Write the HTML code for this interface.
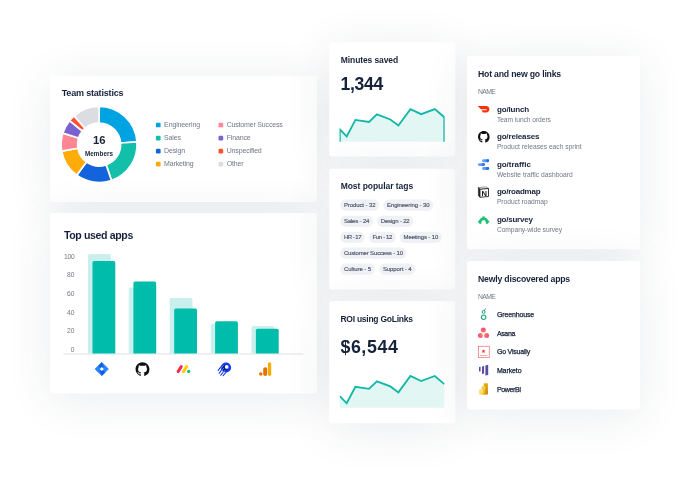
<!DOCTYPE html>
<html lang="en"><head><meta charset="utf-8"><title>Dashboard</title>
<style>
html,body{margin:0;padding:0;background:#fff;}
body{width:690px;height:482px;position:relative;overflow:hidden;font-family:"Liberation Sans",sans-serif;}
.abs{position:absolute;}
.card{position:absolute;background:#fff;border-radius:3px;box-shadow:0 6px 46px rgba(42,55,82,0.10);}
.t{position:absolute;white-space:nowrap;line-height:1;}
</style></head><body>
<div class="card" style="left:51px;top:76px;width:266px;height:126px"></div>
<svg class="abs" style="left:0;top:0" width="690" height="482" viewBox="0 0 690 482"><rect x="50.1" y="75.8" width="267.00" height="126.20" rx="3" fill="#fff"/></svg>
<div class="card" style="left:51px;top:213px;width:266px;height:180px"></div>
<svg class="abs" style="left:0;top:0" width="690" height="482" viewBox="0 0 690 482"><rect x="50.1" y="213.0" width="267.00" height="180.40" rx="3" fill="#fff"/></svg>
<div class="card" style="left:330px;top:43px;width:125px;height:113px"></div>
<svg class="abs" style="left:0;top:0" width="690" height="482" viewBox="0 0 690 482"><rect x="329.2" y="42.3" width="126.20" height="114.30" rx="3" fill="#fff"/></svg>
<div class="card" style="left:330px;top:169px;width:125px;height:120px"></div>
<svg class="abs" style="left:0;top:0" width="690" height="482" viewBox="0 0 690 482"><rect x="329.2" y="168.7" width="126.20" height="120.90" rx="3" fill="#fff"/></svg>
<div class="card" style="left:330px;top:301px;width:125px;height:122px"></div>
<svg class="abs" style="left:0;top:0" width="690" height="482" viewBox="0 0 690 482"><rect x="329.2" y="301.0" width="126.20" height="122.30" rx="3" fill="#fff"/></svg>
<div class="card" style="left:467px;top:56px;width:172px;height:193px"></div>
<svg class="abs" style="left:0;top:0" width="690" height="482" viewBox="0 0 690 482"><rect x="466.9" y="55.9" width="173.00" height="193.40" rx="3" fill="#fff"/></svg>
<div class="card" style="left:467px;top:262px;width:172px;height:147px"></div>
<svg class="abs" style="left:0;top:0" width="690" height="482" viewBox="0 0 690 482"><rect x="466.9" y="261.1" width="173.00" height="148.50" rx="3" fill="#fff"/></svg>
<svg class="abs" style="left:0;top:0" width="690" height="482" viewBox="0 0 690 482"><rect x="155.9" y="122.65" width="4.7" height="4.7" rx="1.2" fill="#00a3e2"/><rect x="155.9" y="135.68" width="4.7" height="4.7" rx="1.2" fill="#12bfa8"/><rect x="155.9" y="148.71" width="4.7" height="4.7" rx="1.2" fill="#1263dc"/><rect x="155.9" y="161.74" width="4.7" height="4.7" rx="1.2" fill="#ffab0a"/><rect x="218.5" y="122.65" width="4.7" height="4.7" rx="1.2" fill="#ff8793"/><rect x="218.5" y="135.68" width="4.7" height="4.7" rx="1.2" fill="#7b62cf"/><rect x="218.5" y="148.71" width="4.7" height="4.7" rx="1.2" fill="#ff5330"/><rect x="218.5" y="161.74" width="4.7" height="4.7" rx="1.2" fill="#dcdde2"/><rect x="63.4" y="353.35" width="240" height="1.15" fill="#e2e4e9"/><path d="M88,353.5 V255.60 a1.6,1.6 0 0 1 1.6,-1.6 H109.20 a1.6,1.6 0 0 1 1.6,1.6 V353.5 Z" fill="#c9f0ec"/><path d="M128.8,353.5 V289.20 a1.6,1.6 0 0 1 1.6,-1.6 H150.00 a1.6,1.6 0 0 1 1.6,1.6 V353.5 Z" fill="#c9f0ec"/><path d="M169.7,353.5 V299.70 a1.6,1.6 0 0 1 1.6,-1.6 H190.90 a1.6,1.6 0 0 1 1.6,1.6 V353.5 Z" fill="#c9f0ec"/><path d="M210.8,353.5 V325.30 a1.6,1.6 0 0 1 1.6,-1.6 H232.00 a1.6,1.6 0 0 1 1.6,1.6 V353.5 Z" fill="#c9f0ec"/><path d="M251.5,353.5 V327.60 a1.6,1.6 0 0 1 1.6,-1.6 H272.70 a1.6,1.6 0 0 1 1.6,1.6 V353.5 Z" fill="#c9f0ec"/><path d="M92.5,353.5 V262.50 a1.6,1.6 0 0 1 1.6,-1.6 H113.70 a1.6,1.6 0 0 1 1.6,1.6 V353.5 Z" fill="#00bcab"/><path d="M133.4,353.5 V283.00 a1.6,1.6 0 0 1 1.6,-1.6 H154.60 a1.6,1.6 0 0 1 1.6,1.6 V353.5 Z" fill="#00bcab"/><path d="M174.2,353.5 V310.20 a1.6,1.6 0 0 1 1.6,-1.6 H195.40 a1.6,1.6 0 0 1 1.6,1.6 V353.5 Z" fill="#00bcab"/><path d="M215.1,353.5 V322.90 a1.6,1.6 0 0 1 1.6,-1.6 H236.30 a1.6,1.6 0 0 1 1.6,1.6 V353.5 Z" fill="#00bcab"/><path d="M255.9,353.5 V330.30 a1.6,1.6 0 0 1 1.6,-1.6 H277.10 a1.6,1.6 0 0 1 1.6,1.6 V353.5 Z" fill="#00bcab"/><rect x="340.2" y="199.60" width="39.00" height="11.2" rx="5.6" fill="#f0f1f4"/><rect x="383.3" y="199.60" width="49.80" height="11.2" rx="5.6" fill="#f0f1f4"/><rect x="340.2" y="215.70" width="32.80" height="11.2" rx="5.6" fill="#f0f1f4"/><rect x="377.1" y="215.70" width="36.10" height="11.2" rx="5.6" fill="#f0f1f4"/><rect x="340.2" y="231.70" width="24.50" height="11.2" rx="5.6" fill="#f0f1f4"/><rect x="368.8" y="231.70" width="27.00" height="11.2" rx="5.6" fill="#f0f1f4"/><rect x="399.9" y="231.70" width="41.90" height="11.2" rx="5.6" fill="#f0f1f4"/><rect x="340.2" y="247.60" width="66.40" height="11.2" rx="5.6" fill="#f0f1f4"/><rect x="340.2" y="263.60" width="34.60" height="11.2" rx="5.6" fill="#f0f1f4"/><rect x="379.2" y="263.60" width="36.10" height="11.2" rx="5.6" fill="#f0f1f4"/></svg>
<span class="t" style="left:61.70px;top:89px;font-size:9px;color:#16213a;font-weight:700;letter-spacing:-0.177px;">Team statistics</span>
<svg class="abs" style="left:0;top:0" width="690" height="482" viewBox="0 0 690 482"><path d="M99.10,106.50 A38.0,38.0 0 0 1 137.01,141.85 L120.55,143.00 A21.5,21.5 0 0 0 99.10,123.00 Z" fill="#00a3e2" stroke="#fff" stroke-width="1.7" stroke-linejoin="round"/><path d="M137.01,141.85 A38.0,38.0 0 0 1 111.47,180.43 L106.10,164.83 A21.5,21.5 0 0 0 120.55,143.00 Z" fill="#12bfa8" stroke="#fff" stroke-width="1.7" stroke-linejoin="round"/><path d="M111.47,180.43 A38.0,38.0 0 0 1 76.76,175.24 L86.46,161.89 A21.5,21.5 0 0 0 106.10,164.83 Z" fill="#1263dc" stroke="#fff" stroke-width="1.7" stroke-linejoin="round"/><path d="M76.76,175.24 A38.0,38.0 0 0 1 61.68,151.10 L77.93,148.23 A21.5,21.5 0 0 0 86.46,161.89 Z" fill="#ffab0a" stroke="#fff" stroke-width="1.7" stroke-linejoin="round"/><path d="M61.68,151.10 A38.0,38.0 0 0 1 62.86,133.07 L78.60,138.03 A21.5,21.5 0 0 0 77.93,148.23 Z" fill="#ff8793" stroke="#fff" stroke-width="1.7" stroke-linejoin="round"/><path d="M62.86,133.07 A38.0,38.0 0 0 1 69.57,120.59 L82.39,130.97 A21.5,21.5 0 0 0 78.60,138.03 Z" fill="#7b62cf" stroke="#fff" stroke-width="1.7" stroke-linejoin="round"/><path d="M69.57,120.59 A38.0,38.0 0 0 1 74.17,115.82 L84.99,128.27 A21.5,21.5 0 0 0 82.39,130.97 Z" fill="#ff5330" stroke="#fff" stroke-width="1.7" stroke-linejoin="round"/><path d="M74.17,115.82 A38.0,38.0 0 0 1 99.10,106.50 L99.10,123.00 A21.5,21.5 0 0 0 84.99,128.27 Z" fill="#dcdde2" stroke="#fff" stroke-width="1.7" stroke-linejoin="round"/></svg>
<span class="t" style="left:92.92px;top:135px;font-size:11.3px;color:#16213a;font-weight:700;">16</span>
<span class="t" style="left:85.00px;top:151px;font-size:6.3px;color:#16213a;font-weight:700;letter-spacing:0.050px;">Members</span>
<span class="t" style="left:164.10px;top:121px;font-size:7px;color:#6f7787;font-weight:400;letter-spacing:-0.133px;">Engineering</span>
<span class="t" style="left:164.10px;top:134px;font-size:7px;color:#6f7787;font-weight:400;letter-spacing:-0.158px;">Sales</span>
<span class="t" style="left:164.10px;top:147px;font-size:7px;color:#6f7787;font-weight:400;letter-spacing:-0.163px;">Design</span>
<span class="t" style="left:164.10px;top:160px;font-size:7px;color:#6f7787;font-weight:400;letter-spacing:-0.154px;">Marketing</span>
<span class="t" style="left:226.70px;top:121px;font-size:7px;color:#6f7787;font-weight:400;letter-spacing:-0.178px;">Customer Success</span>
<span class="t" style="left:226.70px;top:134px;font-size:7px;color:#6f7787;font-weight:400;letter-spacing:-0.160px;">Finance</span>
<span class="t" style="left:226.70px;top:147px;font-size:7px;color:#6f7787;font-weight:400;letter-spacing:-0.150px;">Unspecified</span>
<span class="t" style="left:226.70px;top:160px;font-size:7px;color:#6f7787;font-weight:400;letter-spacing:-0.158px;">Other</span>
<span class="t" style="left:63.90px;top:230px;font-size:10.6px;color:#16213a;font-weight:700;letter-spacing:-0.382px;">Top used apps</span>
<span class="t" style="left:64.02px;top:254px;font-size:6.7px;color:#6f7787;font-weight:400;letter-spacing:-0.260px;">100</span>
<span class="t" style="left:67.11px;top:272px;font-size:6.7px;color:#6f7787;font-weight:400;letter-spacing:-0.074px;">80</span>
<span class="t" style="left:67.11px;top:291px;font-size:6.7px;color:#6f7787;font-weight:400;letter-spacing:-0.074px;">60</span>
<span class="t" style="left:67.11px;top:310px;font-size:6.7px;color:#6f7787;font-weight:400;letter-spacing:-0.074px;">40</span>
<span class="t" style="left:67.11px;top:328px;font-size:6.7px;color:#6f7787;font-weight:400;letter-spacing:-0.074px;">20</span>
<span class="t" style="left:70.76px;top:347px;font-size:6.7px;color:#6f7787;font-weight:400;">0</span>
<svg class="abs" style="left:0;top:0" width="690" height="482" viewBox="0 0 690 482"><defs><linearGradient id="jg1" x1="1" y1="0" x2="0" y2="1"><stop offset="0" stop-color="#0052cc"/><stop offset="1" stop-color="#2684ff"/></linearGradient><linearGradient id="ds" x1="0" y1="0" x2="1" y2="0"><stop offset="0" stop-color="#76a7f8"/><stop offset="1" stop-color="#3d86f3"/></linearGradient><radialGradient id="as" gradientUnits="userSpaceOnUse" cx="483.4" cy="334.2" r="6.2"><stop offset="0" stop-color="#ffb43a"/><stop offset="0.55" stop-color="#fa5f86"/><stop offset="1" stop-color="#f8506a"/></radialGradient><linearGradient id="pb1" x1="0" y1="0" x2="0" y2="1"><stop offset="0" stop-color="#e6ad10"/><stop offset="1" stop-color="#c87e0e"/></linearGradient><linearGradient id="pb2" x1="0" y1="0" x2="0" y2="1"><stop offset="0" stop-color="#f6d751"/><stop offset="1" stop-color="#e6ad10"/></linearGradient><linearGradient id="pb3" x1="0" y1="0" x2="0" y2="1"><stop offset="0" stop-color="#f9e589"/><stop offset="1" stop-color="#f6d751"/></linearGradient><clipPath id="spc"><rect x="339.55" y="90" width="105.1" height="330"/></clipPath></defs><path d="M101.8,362.35 L108.5,369.05 L101.8,375.75 L95.1,369.05 Z" fill="#2684ff" stroke="#2684ff" stroke-width="0.6" stroke-linejoin="round"/><path d="M101.8,362.35 L95.1,369.05 L98.5,372.35 L101.8,369.05 Z" fill="#1b6ff0" opacity="0.0"/><path d="M98.39999999999999,365.65000000000003 L101.8,369.05 L98.39999999999999,372.45  L95.1,369.05 Z" fill="#2684ff"/><path d="M101.8,362.35 L98.45,365.7 L101.8,369.05 L103.7,367.15000000000003 Z" fill="#0b55d6" opacity="0.8"/><path d="M101.8,375.75 L105.14999999999999,372.40000000000003 L101.8,369.05 L99.89999999999999,370.95 Z" fill="#0b55d6" opacity="0.8"/><path d="M101.8,367.05 L103.8,369.05 L101.8,371.05 L99.8,369.05 Z" fill="#fff"/><path transform="translate(135.55,362.35) scale(0.8688)" d="M8 0C3.58 0 0 3.58 0 8c0 3.54 2.29 6.53 5.47 7.59.4.07.55-.17.55-.38 0-.19-.01-.82-.01-1.49-2.01.37-2.53-.49-2.69-.94-.09-.23-.48-.94-.82-1.13-.28-.15-.68-.52-.01-.53.63-.01 1.08.58 1.23.82.72 1.21 1.87.87 2.33.66.07-.52.28-.87.51-1.07-1.78-.2-3.64-.89-3.64-3.95 0-.87.31-1.59.82-2.15-.08-.2-.36-1.02.08-2.12 0 0 .67-.21 2.2.82.64-.18 1.32-.27 2-.27.68 0 1.36.09 2 .27 1.53-1.04 2.2-.82 2.2-.82.44 1.1.16 1.92.08 2.12.51.56.82 1.27.82 2.15 0 3.07-1.87 3.75-3.65 3.95.29.25.54.73.54 1.48 0 1.07-.01 1.93-.01 2.2 0 .21.15.46.55.38A8.013 8.013 0 0016 8c0-4.42-3.58-8-8-8z" fill="#111"/><path d="M178.1,371.6 L181.3,366.5" stroke="#f62b54" stroke-width="3" stroke-linecap="round"/><path d="M183.5,371.6 L186.7,366.5" stroke="#ffcb00" stroke-width="3" stroke-linecap="round"/><circle cx="188.7" cy="371.4" r="1.65" fill="#00ca72"/><path d="M222.2,365.4 L218.2,370.4 M222.6,368.8 L219.2,373.2 M224.2,371 L220.8,375.2 M226.3,372 L223.2,375.6" stroke="#1038f0" stroke-width="1.1" stroke-linecap="round" fill="none"/><circle cx="226" cy="367.5" r="5.1" fill="#1038f0"/><circle cx="225.1" cy="368" r="2.7" fill="#0a1a78"/><path d="M221.6,367.6 L223.4,365.3 M222,370.4 L223.6,368.4 M223.6,372.2 L225.2,370.2" stroke="#fff" stroke-width="0.45" stroke-linecap="round" fill="none" opacity="0.85"/><circle cx="226.7" cy="366.9" r="1.85" fill="#fff"/><rect x="267.9" y="362.2" width="3.3" height="13.7" rx="1.65" fill="#f9ab00"/><rect x="263.2" y="367.2" width="4" height="8.7" rx="1.9" fill="#e37400"/><circle cx="260.8" cy="374.1" r="1.75" fill="#e37400"/><path transform="translate(477.8,106.1) scale(1,0.96)" d="M0,0 H8.3 C10.4,0 11.6,1.5 11.6,3.35 S10.4,6.7 8.3,6.7 H5.8 C5.5,6.7 5.2,6.55 5,6.3 L3.9,4.9 C3.7,4.6 3.9,4.3 4.2,4.3 H8.4 A0.55,0.55 0 0 0 8.4,3.2 H3.3 C3,3.2 2.7,3.05 2.5,2.8 Z" fill="#ff3008"/><path transform="translate(478.00,131.10) scale(0.7250)" d="M8 0C3.58 0 0 3.58 0 8c0 3.54 2.29 6.53 5.47 7.59.4.07.55-.17.55-.38 0-.19-.01-.82-.01-1.49-2.01.37-2.53-.49-2.69-.94-.09-.23-.48-.94-.82-1.13-.28-.15-.68-.52-.01-.53.63-.01 1.08.58 1.23.82.72 1.21 1.87.87 2.33.66.07-.52.28-.87.51-1.07-1.78-.2-3.64-.89-3.64-3.95 0-.87.31-1.59.82-2.15-.08-.2-.36-1.02.08-2.12 0 0 .67-.21 2.2.82.64-.18 1.32-.27 2-.27.68 0 1.36.09 2 .27 1.53-1.04 2.2-.82 2.2-.82.44 1.1.16 1.92.08 2.12.51.56.82 1.27.82 2.15 0 3.07-1.87 3.75-3.65 3.95.29.25.54.73.54 1.48 0 1.07-.01 1.93-.01 2.2 0 .21.15.46.55.38A8.013 8.013 0 0016 8c0-4.42-3.58-8-8-8z" fill="#111"/><rect x="482" y="159.25" width="7.10" height="2.9" rx="1.45" fill="url(#ds)"/><circle cx="487.65000000000003" cy="160.7" r="1.45" fill="#1f6fe5"/><rect x="477.8" y="163.15" width="7.10" height="2.9" rx="1.45" fill="url(#ds)"/><circle cx="483.45" cy="164.6" r="1.45" fill="#1f6fe5"/><rect x="482" y="167.05" width="7.10" height="2.9" rx="1.45" fill="url(#ds)"/><circle cx="487.65000000000003" cy="168.5" r="1.45" fill="#1f6fe5"/><path d="M478.4,187.6 L486,186.9 L488.5,188.5 L479.9,189.3 Z" fill="#fff" stroke="#555" stroke-width="0.6" stroke-linejoin="round"/><path d="M479.9,189.3 L488.5,188.5 L488.5,196.5 L479.9,197.3 Z" fill="#fff" stroke="#111" stroke-width="0.85" stroke-linejoin="round"/><path d="M478.4,187.6 L479.7,188.9 L479.7,197 L478.4,195.7 Z" fill="#111" stroke="#111" stroke-width="0.5" stroke-linejoin="round"/><text x="484.3" y="195.8" font-family="Liberation Sans, sans-serif" font-weight="700" font-size="7.6" text-anchor="middle" fill="#111">N</text><path d="M479.6,223.7 L479.3,223.3 L478,221.8 L479.3,220.3 C479.9,218.9 481.3,217.9 482.8,217.6 L482.5,216.6 L483.15,216.9 L483.6,216.15 L484.05,216.9 L484.7,216.6 L484.4,217.6 C485.9,217.9 487.3,218.9 487.9,220.3 L489.3,221.8 L487.9,223.3 L487.6,223.7 L486.1,223.7 C486.1,221 485.3,219.9 483.6,219.9 C481.9,219.9 481.1,221 481.1,223.7 Z" fill="#1cc26f" stroke="#1cc26f" stroke-width="0.35" stroke-linejoin="round"/><circle cx="483.6" cy="317.2" r="2.25" fill="none" stroke="#1fa37d" stroke-width="1.05"/><circle cx="483.6" cy="311.9" r="1.5" fill="none" stroke="#1fa37d" stroke-width="1.0"/><path d="M484.3,310.6 C484.4,309.8 484.9,309.3 485.6,308.8" fill="none" stroke="#1fa37d" stroke-width="1.0" stroke-linecap="round"/><circle cx="483.3" cy="330.1" r="2.5" fill="url(#as)"/><circle cx="480.45" cy="335.4" r="2.5" fill="url(#as)"/><circle cx="486.55" cy="335.4" r="2.5" fill="url(#as)"/><rect x="478.45" y="346.25" width="10.8" height="11.1" fill="#fff" stroke="#f0686a" stroke-width="0.7"/><path d="M479.9,355.55 H487.5" stroke="#f0686a" stroke-width="0.6"/><polygon points="483.45,349.20 483.98,350.57 485.45,350.65 484.31,351.58 484.68,353.00 483.45,352.20 482.22,353.00 482.59,351.58 481.45,350.65 482.92,350.57" fill="#ee2f3c"/><path d="M479,367 L480.6,366.7 L480.6,371.3 L479,371.6 Z" fill="#5c4c9f"/><path d="M482,366.5 L484.1,366.1 L484.1,373.6 L482,374 Z" fill="#5c4c9f"/><path d="M485.4,365.4 L488.2,364.8 L488.2,374.9 L485.4,375.6 Z" fill="#5c4c9f"/><rect x="483.8" y="383.3" width="4.1" height="11.2" rx="0.5" fill="url(#pb1)"/><rect x="481.5" y="386.3" width="3.9" height="8.2" rx="0.5" fill="url(#pb2)"/><rect x="479.2" y="389.2" width="3.8" height="5.3" rx="0.5" fill="url(#pb3)"/><path d="M339.8,141.7 L339.8,129.3 L346.7,136.4 L355.4,119.9 L369.0,121.9 L376.9,114.4 L390.3,119.5 L398.4,125.5 L410.4,109.1 L421.2,114.2 L434.8,109.1 L444.3,117.2 L444.3,141.7 Z" fill="#e2f6f4"/><path d="M339.8,141.7 L339.8,129.3 L346.7,136.4 L355.4,119.9 L369.0,121.9 L376.9,114.4 L390.3,119.5 L398.4,125.5 L410.4,109.1 L421.2,114.2 L434.8,109.1 L444.3,117.2 L444.3,141.7" fill="none" stroke="#12b8a6" stroke-width="1.85" stroke-linejoin="miter" clip-path="url(#spc)"/><path d="M339.8,407.7 L339.8,396.2 L346.7,403.3 L355.4,386.8 L369.0,388.8 L376.9,381.3 L390.3,386.4 L398.4,392.4 L410.4,376.0 L421.2,381.1 L434.8,376.0 L444.3,384.1 L444.3,407.7 Z" fill="#e2f6f4"/><path d="M339.8,396.2 L346.7,403.3 L355.4,386.8 L369.0,388.8 L376.9,381.3 L390.3,386.4 L398.4,392.4 L410.4,376.0 L421.2,381.1 L434.8,376.0 L444.3,384.1" fill="none" stroke="#12b8a6" stroke-width="1.85" stroke-linejoin="miter" clip-path="url(#spc)"/></svg>
<span class="t" style="left:340.80px;top:56px;font-size:8.5px;color:#16213a;font-weight:700;letter-spacing:-0.098px;">Minutes saved</span>
<span class="t" style="left:340.60px;top:76px;font-size:17.6px;color:#16213a;font-weight:700;letter-spacing:-0.365px;">1,344</span>
<span class="t" style="left:340.70px;top:182px;font-size:8.5px;color:#16213a;font-weight:700;letter-spacing:-0.047px;">Most popular tags</span>
<span class="t" style="left:343.90px;top:202px;font-size:6px;color:#4a5468;font-weight:400;letter-spacing:-0.090px;-webkit-text-stroke:0.15px #4a5468;">Product - 32</span>
<span class="t" style="left:387.00px;top:202px;font-size:6px;color:#4a5468;font-weight:400;letter-spacing:-0.102px;-webkit-text-stroke:0.15px #4a5468;">Engineering - 30</span>
<span class="t" style="left:343.90px;top:218px;font-size:6px;color:#4a5468;font-weight:400;letter-spacing:-0.161px;-webkit-text-stroke:0.15px #4a5468;">Sales - 24</span>
<span class="t" style="left:380.80px;top:218px;font-size:6px;color:#4a5468;font-weight:400;letter-spacing:-0.180px;-webkit-text-stroke:0.15px #4a5468;">Design - 22</span>
<span class="t" style="left:343.90px;top:234px;font-size:6px;color:#4a5468;font-weight:400;letter-spacing:-0.510px;-webkit-text-stroke:0.15px #4a5468;">HR - 17</span>
<span class="t" style="left:372.50px;top:234px;font-size:6px;color:#4a5468;font-weight:400;letter-spacing:-0.343px;-webkit-text-stroke:0.15px #4a5468;">Fun - 12</span>
<span class="t" style="left:403.60px;top:234px;font-size:6px;color:#4a5468;font-weight:400;letter-spacing:-0.142px;-webkit-text-stroke:0.15px #4a5468;">Meetings - 10</span>
<span class="t" style="left:343.90px;top:250px;font-size:6px;color:#4a5468;font-weight:400;letter-spacing:-0.160px;-webkit-text-stroke:0.15px #4a5468;">Customer Success - 10</span>
<span class="t" style="left:343.90px;top:266px;font-size:6px;color:#4a5468;font-weight:400;letter-spacing:-0.074px;-webkit-text-stroke:0.15px #4a5468;">Culture - 5</span>
<span class="t" style="left:382.90px;top:266px;font-size:6px;color:#4a5468;font-weight:400;letter-spacing:-0.089px;-webkit-text-stroke:0.15px #4a5468;">Support - 4</span>
<span class="t" style="left:340.40px;top:315px;font-size:8.5px;color:#16213a;font-weight:700;letter-spacing:-0.247px;">ROI using GoLinks</span>
<span class="t" style="left:340.40px;top:339px;font-size:17.8px;color:#16213a;font-weight:700;letter-spacing:0.602px;">$6,544</span>
<span class="t" style="left:478.00px;top:70px;font-size:8.7px;color:#16213a;font-weight:700;letter-spacing:-0.194px;">Hot and new go links</span>
<span class="t" style="left:478.00px;top:89px;font-size:6.8px;color:#6f7787;font-weight:400;letter-spacing:-0.584px;">NAME</span>
<span class="t" style="left:496.90px;top:106px;font-size:8px;color:#16213a;font-weight:700;letter-spacing:-0.141px;">go/lunch</span>
<span class="t" style="left:496.90px;top:117px;font-size:6.7px;color:#6f7787;font-weight:400;letter-spacing:-0.059px;">Team lunch orders</span>
<span class="t" style="left:496.90px;top:133px;font-size:8px;color:#16213a;font-weight:700;letter-spacing:-0.148px;">go/releases</span>
<span class="t" style="left:496.90px;top:144px;font-size:6.7px;color:#6f7787;font-weight:400;letter-spacing:-0.002px;">Product releases each sprint</span>
<span class="t" style="left:496.90px;top:161px;font-size:8px;color:#16213a;font-weight:700;letter-spacing:-0.032px;">go/traffic</span>
<span class="t" style="left:496.90px;top:172px;font-size:6.7px;color:#6f7787;font-weight:400;letter-spacing:0.013px;">Website traffic dashboard</span>
<span class="t" style="left:496.90px;top:188px;font-size:8px;color:#16213a;font-weight:700;letter-spacing:-0.238px;">go/roadmap</span>
<span class="t" style="left:496.90px;top:199px;font-size:6.7px;color:#6f7787;font-weight:400;letter-spacing:-0.033px;">Product roadmap</span>
<span class="t" style="left:496.90px;top:216px;font-size:8px;color:#16213a;font-weight:700;letter-spacing:-0.221px;">go/survey</span>
<span class="t" style="left:496.90px;top:227px;font-size:6.7px;color:#6f7787;font-weight:400;letter-spacing:-0.056px;">Company-wide survey</span>
<span class="t" style="left:478.00px;top:275px;font-size:8.7px;color:#16213a;font-weight:700;letter-spacing:-0.194px;">Newly discovered apps</span>
<span class="t" style="left:478.00px;top:294px;font-size:6.8px;color:#6f7787;font-weight:400;letter-spacing:-0.584px;">NAME</span>
<span class="t" style="left:496.90px;top:311px;font-size:7px;color:#16213a;font-weight:400;letter-spacing:-0.133px;-webkit-text-stroke:0.25px #16213a;">Greenhouse</span>
<span class="t" style="left:496.90px;top:330px;font-size:7px;color:#16213a;font-weight:400;letter-spacing:-0.350px;-webkit-text-stroke:0.25px #16213a;">Asana</span>
<span class="t" style="left:496.90px;top:348px;font-size:7px;color:#16213a;font-weight:400;letter-spacing:-0.198px;-webkit-text-stroke:0.25px #16213a;">Go Visually</span>
<span class="t" style="left:496.90px;top:367px;font-size:7px;color:#16213a;font-weight:400;letter-spacing:-0.098px;-webkit-text-stroke:0.25px #16213a;">Marketo</span>
<span class="t" style="left:496.90px;top:386px;font-size:7px;color:#16213a;font-weight:400;letter-spacing:-0.351px;-webkit-text-stroke:0.25px #16213a;">PowerBI</span>
</body></html>
